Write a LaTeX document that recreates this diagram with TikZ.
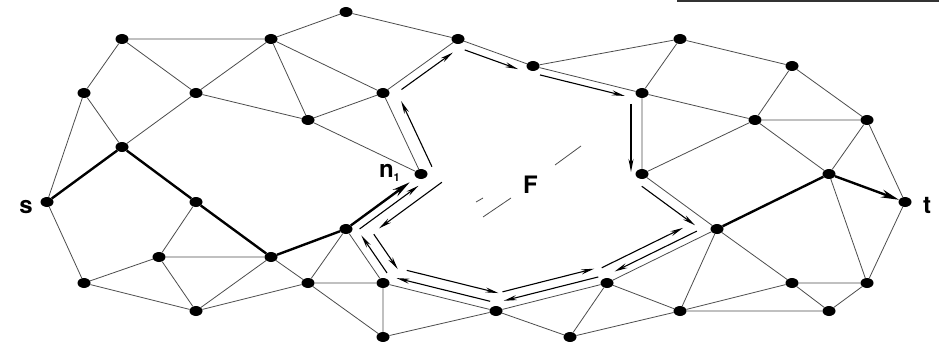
\documentclass[tikz,border=0pt]{standalone}
\usepackage{fontspec}
\setmainfont{TeX Gyre Heros}
\usetikzlibrary{shapes.geometric, arrows.meta, positioning, calc}

% arrow running beside the edge (#1)--(#2), #3 to its right, shortened by #4 and #5
\newcommand{\flowseg}[5]{%
  \draw[flow, shorten <=#4, shorten >=#5] ($(#1)!#3!-90:(#2)$) -- ($(#2)!#3!90:(#1)$);}

\begin{document}
\begin{tikzpicture}[
  x=1pt, y=-1pt,
  font=\bfseries\fontsize{24}{28}\selectfont,
  dot/.style={ellipse, fill=black, minimum width=13pt, minimum height=10pt,
              inner sep=0pt},
  link/.style={line width=0.8pt, black!70},
  route/.style={line width=2.4pt, black},
  routearr/.style={route, -{Stealth[length=18pt, width=8pt]}},
  flow/.style={line width=1.1pt, -{Stealth[length=13pt, width=5pt]}},
  lbl/.style={inner sep=0pt}]
  \useasboundingbox (0,0) rectangle (939,342);

  \node[dot] (a1) at (122,39) {};
  \node[dot] (a2) at (271,39) {};
  \node[dot] (a3) at (346,12) {};
  \node[dot] (a4) at (458,39) {};
  \node[dot] (a5) at (533,66) {};
  \node[dot] (a6) at (680,39) {};
  \node[dot] (a7) at (792,66) {};
  \node[dot] (b1) at (84,93) {};
  \node[dot] (b2) at (196,93) {};
  \node[dot] (b3) at (308,120) {};
  \node[dot] (b4) at (383,93) {};
  \node[dot] (b5) at (642,93) {};
  \node[dot] (b6) at (755,120) {};
  \node[dot] (b7) at (867,120) {};
  \node[dot] (c1) at (122,147) {};
  \node[dot] (n1) at (421,174) {};
  \node[dot] (c2) at (642,174) {};
  \node[dot] (c3) at (829,174) {};
  \node[dot] (s) at (47,202) {};
  \node[dot] (d1) at (196,202) {};
  \node[dot] (t) at (905,202) {};
  \node[dot] (e1) at (159,257) {};
  \node[dot] (e2) at (271,257) {};
  \node[dot] (e3) at (346,229) {};
  \node[dot] (e4) at (717,229) {};
  \node[dot] (f1) at (84,283) {};
  \node[dot] (f2) at (308,283) {};
  \node[dot] (f3) at (383,283) {};
  \node[dot] (f4) at (607,283) {};
  \node[dot] (f5) at (792,283) {};
  \node[dot] (f6) at (867,283) {};
  \node[dot] (g1) at (196,311) {};
  \node[dot] (g2) at (496,311) {};
  \node[dot] (g3) at (680,311) {};
  \node[dot] (g4) at (829,311) {};
  \node[dot] (h1) at (383,337) {};
  \node[dot] (h2) at (570,337) {};

  \node[lbl, anchor=base east] (slab) at ($(s)+(-14,11)$) {s};
  \node[lbl, anchor=base west] (tlab) at ($(t)+(18,11)$) {t};
  \node[lbl, anchor=base east] (nlab) at ($(n1)+(-21,3)$)
    {n\raisebox{-4pt}{\fontsize{11}{11}\selectfont 1}};
  \node[lbl, anchor=base west] (flab) at (523,193) {F};

  % network
  \draw[link] (a1) -- (a2) (a1) -- (b1) (a1) -- (b2) (b1) -- (c1) (b1) -- (s)
    (b2) -- (a2) (b2) -- (c1) (b2) -- (b3) (a2) -- (b3) (a2) -- (a3)
    (a2) -- (b4) (b3) -- (b4) (b3) -- (n1) (b4) -- (n1) (b4) -- (a4)
    (a3) -- (a4) (a4) -- (a5) (a5) -- (b5) (a5) -- (a6) (a6) -- (b5)
    (a6) -- (a7) (b5) -- (b6) (b5) -- (c2) (a7) -- (b6) (a7) -- (b7)
    (b6) -- (b7) (b6) -- (c2) (b6) -- (c3) (b7) -- (c3) (b7) -- (t);
  \draw[link] (c2) -- (e4) (c3) -- (f6) (t) -- (f6) (e4) -- (g3) (e4) -- (f5)
    (f5) -- (f6) (f5) -- (g4) (g4) -- (f6) (g3) -- (g4) (g3) -- (f5)
    (g3) -- (h2) (f4) -- (g3) (e4) -- (f4) (f4) -- (g2) (g2) -- (h2)
    (f4) -- (h2) (e3) -- (f2) (e3) -- (f3) (f2) -- (f3) (f3) -- (h1)
    (f3) -- (g2) (f2) -- (h1) (h1) -- (g2) (s) -- (f1) (f1) -- (e1)
    (f1) -- (g1) (e1) -- (d1) (e1) -- (e2) (e1) -- (g1) (g1) -- (e2)
    (g1) -- (f2) (e2) -- (f2);

  % chosen route
  \draw[route] (s) -- (c1) (c1) -- (d1) (d1) -- (e2) (e2) -- (e3) (e4) -- (c3);
  \draw[routearr, shorten >=8pt] (e3) -- (n1);
  \draw[routearr] (c3) -- (t);

  % over the top of F
  \flowseg{n1}{b4}{13pt}{2pt}{15pt}
  \flowseg{b4}{a4}{8pt}{17pt}{12pt}
  \flowseg{a4}{a5}{8pt}{10pt}{13pt}
  \flowseg{a5}{b5}{7pt}{9pt}{16pt}
  \flowseg{b5}{c2}{11pt}{11pt}{2pt}
  \flowseg{c2}{e4}{10pt}{7pt}{20pt}
  % under F, back to n1
  \flowseg{e4}{f4}{7pt}{19pt}{12pt}
  \flowseg{f4}{g2}{8pt}{7pt}{10pt}
  \flowseg{g2}{f3}{8pt}{8pt}{12pt}
  \flowseg{f3}{e3}{9pt}{6pt}{14pt}
  \flowseg{e3}{n1}{8pt}{11pt}{9pt}
  % under F, out of n1
  \flowseg{n1}{e3}{-19pt}{-12pt}{27pt}
  \flowseg{e3}{f3}{-20pt}{20pt}{3pt}
  \flowseg{f3}{g2}{-18pt}{20pt}{2pt}
  \flowseg{g2}{f4}{-17pt}{11pt}{9pt}
  \flowseg{f4}{e4}{-16pt}{2pt}{30pt}

  % pieces of the boundary of F
  \draw[link] (476,202) -- (483,198);
  \draw[link] (483,217) -- (511,198);
  \draw[link] (555,165) -- (581,146);
  \draw[line width=1.3pt, black!80] (677,1) -- (939,1);
\end{tikzpicture}
\end{document}
